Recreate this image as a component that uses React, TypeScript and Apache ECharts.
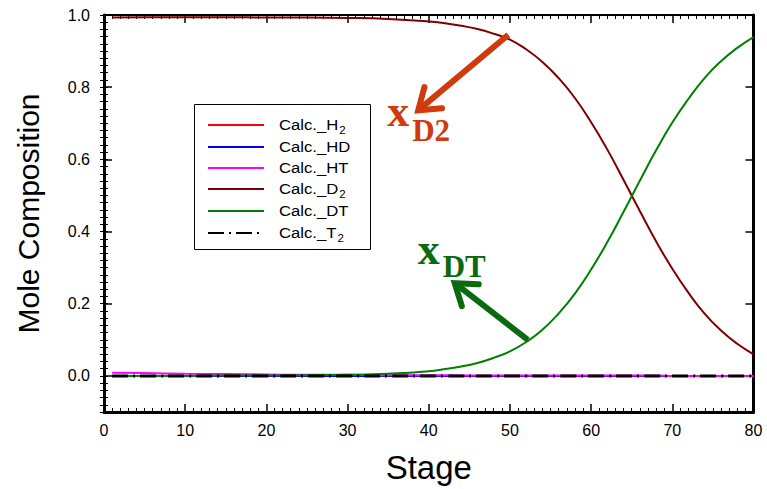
import React, { useEffect, useRef } from "react";
import * as echarts from "echarts";

// Stage numbers at which the column profile is sampled
const stages = [1, 5, 10, 15, 20, 25, 30, 35, 40, 42, 44, 46, 48, 50, 52, 54, 56, 58, 60, 62, 64, 66, 68, 70, 72, 74, 76, 78, 80];

// Calculated mole fractions per species
const h2 = [0, 0, 0, 0, 0, 0, 0, 0, 0, 0, 0, 0, 0, 0, 0, 0, 0, 0, 0, 0, 0, 0, 0, 0, 0, 0, 0, 0, 0];
const hd = [0, 0, 0, 0, 0, 0, 0, 0, 0, 0, 0, 0, 0, 0, 0, 0, 0, 0, 0, 0, 0, 0, 0, 0, 0, 0, 0, 0, 0];
const ht = [0.009, 0.008, 0.006, 0.005, 0.004, 0.003, 0.003, 0.002, 0.002, 0.002, 0.001, 0.001, 0.001, 0.001, 0.001, 0.001, 0.001, 0.001, 0.001, 0.001, 0.001, 0.001, 0.001, 0, 0, 0, 0, 0, 0];
const d2 = [0.993, 0.994, 0.994, 0.994, 0.993, 0.993, 0.992, 0.989, 0.982, 0.977, 0.97, 0.961, 0.948, 0.932, 0.905, 0.87, 0.825, 0.77, 0.703, 0.627, 0.543, 0.457, 0.373, 0.297, 0.23, 0.172, 0.126, 0.089, 0.06];
const dt = [0, 0, 0, 0.001, 0.001, 0.002, 0.003, 0.006, 0.013, 0.019, 0.026, 0.036, 0.05, 0.068, 0.094, 0.128, 0.173, 0.228, 0.295, 0.371, 0.455, 0.541, 0.625, 0.702, 0.768, 0.826, 0.872, 0.909, 0.939];
const t2 = [0, 0, 0, 0, 0, 0, 0, 0, 0, 0, 0, 0, 0, 0, 0, 0, 0, 0, 0, 0, 0, 0, 0, 0, 0, 0, 0, 0, 0];

const yTickValues = [0, 0.2, 0.4, 0.6, 0.8, 1.0];

const seriesNames = ["Calc._H2", "Calc._HD", "Calc._HT", "Calc._D2", "Calc._DT", "Calc._T2"];
// Legend text split into the base and its subscript
const legendBase = ["Calc._H", "Calc._HD", "Calc._HT", "Calc._D", "Calc._DT", "Calc._T"];
const legendSub = ["2", "", "", "2", "", "2"];
const seriesColors = ["#ff0000", "#0000ff", "#ff00ff", "#800000", "#008000", "#000000"];
const seriesValues = [h2, hd, ht, d2, dt, t2];
const dashDot = [16, 5, 2, 5];

// Annotation arrows, in data coordinates [stage, fraction]
const d2ArrowTail = [49.8, 0.945];
const d2ArrowTip = [38.7, 0.736];
const dtArrowTail = [52.2, 0.1];
const dtArrowTip = [43.2, 0.257];

const SANS = "'Liberation Sans', Arial, Helvetica, sans-serif";
const SERIF = "'Liberation Serif', 'Times New Roman', serif";

function arrowShapes(tail: number[], tip: number[], color: string) {
  const dx = tail[0] - tip[0];
  const dy = tail[1] - tip[1];
  const len = Math.hypot(dx, dy);
  const ang = Math.atan2(dy, dx);
  const spread = (35 * Math.PI) / 180;
  const arm = 24;
  const a1 = [tip[0] + arm * Math.cos(ang - spread), tip[1] + arm * Math.sin(ang - spread)];
  const a2 = [tip[0] + arm * Math.cos(ang + spread), tip[1] + arm * Math.sin(ang + spread)];
  const shaftEnd = [tip[0] + (dx / len) * 3, tip[1] + (dy / len) * 3];
  return [
    {
      type: "line",
      shape: { x1: tail[0], y1: tail[1], x2: shaftEnd[0], y2: shaftEnd[1] },
      style: { stroke: color, lineWidth: 6, lineCap: "butt" },
      z: 10,
    },
    {
      type: "polyline",
      shape: { points: [a1, tip, a2] },
      style: { stroke: color, fill: null, lineWidth: 6, lineCap: "round", lineJoin: "miter" },
      z: 10,
    },
  ];
}

function label(text: string, left: number, baseline: number, size: number, color: string) {
  return {
    type: "text",
    x: left,
    y: baseline - 0.3375 * size,
    z: 10,
    style: {
      text,
      fill: color,
      fontFamily: SERIF,
      fontWeight: "bold",
      fontSize: size,
      align: "left",
      verticalAlign: "middle",
    },
  };
}

function measure(text: string, font: string) {
  const ctx = document.createElement("canvas").getContext("2d");
  if (!ctx) return text.length * 8;
  ctx.font = font;
  return ctx.measureText(text).width;
}

// Boxed legend: sample line, name and subscript per row
function legendShapes() {
  const boxX = 194;
  const boxY = 104;
  const boxW = 176;
  const boxH = 145;
  const rowY = [125, 147, 168, 189, 211, 233];
  const lineX1 = 208;
  const lineX2 = 264;
  const textX = 279;
  const fs = 14.5;
  const stretch = 1.15;
  const els: any[] = [
    {
      type: "rect",
      shape: { x: boxX + 0.5, y: boxY + 0.5, width: boxW, height: boxH },
      style: { fill: "#fff", stroke: "#000", lineWidth: 1 },
      z: 20,
    },
  ];
  seriesNames.forEach((_, i) => {
    const y = rowY[i];
    els.push({
      type: "line",
      shape: { x1: lineX1, y1: y, x2: lineX2, y2: y },
      style: {
        stroke: seriesColors[i],
        lineWidth: 2,
        lineDash: i === 5 ? dashDot : null,
      },
      z: 21,
    });
    els.push({
      type: "text",
      x: textX,
      y,
      scaleX: stretch,
      z: 21,
      style: { text: legendBase[i], fill: "#000", fontFamily: SANS, fontSize: fs, align: "left", verticalAlign: "middle" },
    });
    if (legendSub[i]) {
      const w = measure(legendBase[i], `${fs}px ${SANS}`) * stretch;
      els.push({
        type: "text",
        x: textX + w + 1,
        y: y + 5,
        scaleX: stretch,
        z: 21,
        style: { text: legendSub[i], fill: "#000", fontFamily: SANS, fontSize: 10, align: "left", verticalAlign: "middle" },
      });
    }
  });
  return els;
}

export default function App() {
  const ref = useRef<HTMLDivElement>(null);

  useEffect(() => {
    if (!ref.current) return;
    const chart = echarts.init(ref.current, null, { renderer: "svg" });

    const tickStyle = { color: "#000", width: 1.5 };
    const minorStyle = { color: "#000", width: 1 };

    chart.setOption({
      animation: false,
      backgroundColor: "#fff",
      grid: { left: 104, right: 13.5, top: 15, bottom: 75, containLabel: false },
      xAxis: [
        {
          type: "value",
          position: "bottom",
          min: 0,
          max: 80,
          interval: 10,
          axisLine: { show: true, onZero: false, lineStyle: { color: "#000", width: 3 } },
          axisTick: { show: true, inside: true, length: 8, lineStyle: tickStyle },
          minorTick: { show: true, splitNumber: 10, length: 4, lineStyle: minorStyle },
          axisLabel: { margin: 10, fontSize: 16, color: "#000", fontFamily: SANS },
          splitLine: { show: false },
          name: "Stage",
          nameLocation: "middle",
          nameGap: 39,
          nameTextStyle: { fontSize: 33, color: "#000", fontFamily: SANS },
        },
        {
          type: "value",
          position: "top",
          min: 0,
          max: 80,
          interval: 10,
          axisLine: { show: true, onZero: false, lineStyle: { color: "#000", width: 2 } },
          axisTick: { show: true, inside: true, length: 8, lineStyle: tickStyle },
          minorTick: { show: true, splitNumber: 10, length: 4, lineStyle: minorStyle },
          axisLabel: { show: false },
          splitLine: { show: false },
        },
      ],
      yAxis: [
        {
          type: "value",
          position: "left",
          min: -0.1,
          max: 1.0,
          axisLine: { show: true, onZero: false, lineStyle: { color: "#000", width: 3 } },
          axisTick: { show: true, inside: true, length: 8, lineStyle: tickStyle, customValues: yTickValues },
          axisLabel: {
            customValues: yTickValues,
            formatter: (v: number) => v.toFixed(1),
            margin: 14,
            fontSize: 16,
            color: "#000",
            fontFamily: SANS,
          },
          splitLine: { show: false },
          name: "Mole Composition",
          nameLocation: "middle",
          nameGap: 61,
          nameTextStyle: { fontSize: 30, color: "#000", fontFamily: SANS },
        },
        {
          type: "value",
          position: "left",
          min: -0.1,
          max: 1.0,
          interval: 0.02,
          axisLine: { show: false },
          axisTick: { show: true, inside: true, length: 4, lineStyle: minorStyle },
          axisLabel: { show: false },
          splitLine: { show: false },
        },
        {
          type: "value",
          position: "right",
          min: -0.1,
          max: 1.0,
          axisLine: { show: true, onZero: false, lineStyle: { color: "#000", width: 3 } },
          axisTick: { show: true, inside: true, length: 8, lineStyle: tickStyle, customValues: yTickValues },
          axisLabel: { show: false },
          splitLine: { show: false },
        },
        {
          type: "value",
          position: "right",
          min: -0.1,
          max: 1.0,
          interval: 0.02,
          axisLine: { show: false },
          axisTick: { show: true, inside: true, length: 4, lineStyle: minorStyle },
          axisLabel: { show: false },
          splitLine: { show: false },
        },
      ],
      series: seriesNames.map((name, i) => ({
        name,
        type: "line",
        xAxisIndex: 0,
        yAxisIndex: 0,
        smooth: true,
        symbol: "none",
        showSymbol: false,
        color: seriesColors[i],
        lineStyle: {
          color: seriesColors[i],
          width: i === 5 ? 3 : 2,
          type: i === 5 ? dashDot : "solid",
        },
        data: stages.map((s, k) => [s, seriesValues[i][k]]),
        z: 2 + i,
      })),
    });

    const px = (p: number[]) => chart.convertToPixel({ xAxisIndex: 0, yAxisIndex: 0 }, p) as number[];
    const orange = "#d03a0c";
    const green = "#0b6a10";
    const d2Tail = px(d2ArrowTail);
    const d2Tip = px(d2ArrowTip);
    const dtTail = px(dtArrowTail);
    const dtTip = px(dtArrowTip);

    chart.setOption({
      graphic: [
        ...legendShapes(),
        ...arrowShapes(d2Tail, d2Tip, orange),
        label("x", d2Tip[0] - 31, d2Tip[1] + 16, 44, orange),
        label("D2", d2Tip[0] - 6, d2Tip[1] + 31, 31, orange),
        ...arrowShapes(dtTail, dtTip, green),
        label("x", dtTip[0] - 37, dtTip[1] - 19, 44, green),
        label("DT", dtTip[0] - 12, dtTip[1] - 6, 31, green),
      ],
    });

    return () => chart.dispose();
  }, []);

  return (
    <div
      ref={ref}
      style={{ position: "absolute", left: 0, top: 0, width: 767, height: 489, background: "#fff" }}
    />
  );
}
